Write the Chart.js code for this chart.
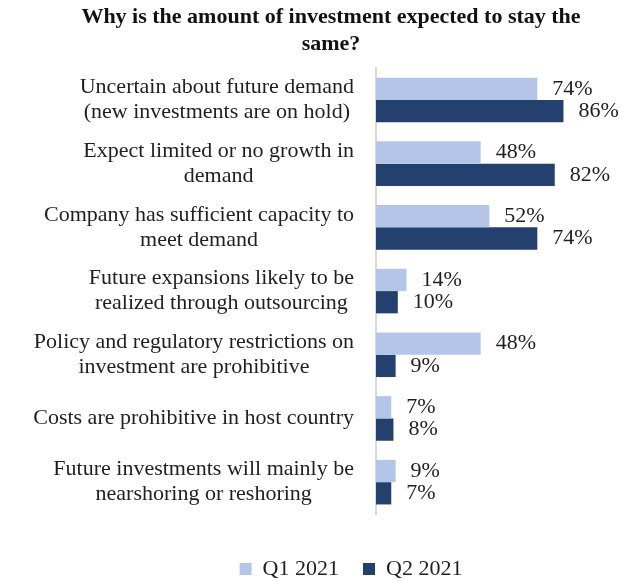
<!DOCTYPE html>
<html>
<head>
<meta charset="utf-8">
<script src="https://cdn.jsdelivr.net/npm/chart.js@4"></script>
<style>
  body { margin: 0; background: #fff; }
  #wrap { width: 634px; height: 581px; }
</style>
</head>
<body>
<div id="wrap"><canvas id="chartOne"></canvas></div>
<script>
const reasons = [
    ['Uncertain about future demand', '(new investments are on hold)'],
    ['Expect limited or no growth in', 'demand'],
    ['Company has sufficient capacity to', 'meet demand'],
    ['Future expansions likely to be', 'realized through outsourcing'],
    ['Policy and regulatory restrictions on', 'investment are prohibitive'],
    ['Costs are prohibitive in host country'],
    ['Future investments will mainly be', 'nearshoring or reshoring']
];
const seriesNames = ['Q1 2021', 'Q2 2021'];
const q1Values = [74, 48, 52, 14, 48, 7, 9];
const q2Values = [86, 82, 74, 10, 9, 8, 7];

const FONT = '"Liberation Serif", "Times New Roman", serif';
const TEXT = '#1f1f1f';

// category labels: each block right aligned, its lines centred on each other
const reasonLabels = {
    id: 'reasonLabels',
    afterDraw(chart) {
        const ctx = chart.ctx;
        const y = chart.scales.y;
        const right = 354;
        const lineH = 25;
        ctx.save();
        ctx.font = '22px ' + FONT;
        ctx.fillStyle = TEXT;
        ctx.textAlign = 'center';
        ctx.textBaseline = 'middle';
        reasons.forEach((lines, i) => {
            const w = Math.max(...lines.map(l => ctx.measureText(l).width));
            const cx = right - w / 2;
            const cy = y.getPixelForValue(i);
            const top = cy - (lines.length - 1) * lineH / 2;
            lines.forEach((l, k) => ctx.fillText(l, cx, top + k * lineH));
        });
        ctx.restore();
    }
};

// percentage labels at the end of each bar
const valueLabels = {
    id: 'valueLabels',
    afterDatasetsDraw(chart) {
        const ctx = chart.ctx;
        ctx.save();
        ctx.font = '22px ' + FONT;
        ctx.fillStyle = TEXT;
        ctx.textAlign = 'left';
        ctx.textBaseline = 'middle';
        chart.data.datasets.forEach((ds, i) => {
            chart.getDatasetMeta(i).data.forEach((bar, j) => {
                ctx.fillText(ds.data[j] + '%', bar.x + 15, bar.y);
            });
        });
        ctx.restore();
    }
};

// nudge the legend under the plot
const legendShift = {
    id: 'legendShift',
    afterLayout(chart) {
        const lg = chart.legend;
        lg.left += 20; lg.right += 20;
        lg.top += 20; lg.bottom += 20;
    }
};

const ctx = document.getElementById('chartOne').getContext('2d');
const myChart = new Chart(ctx, {
    type: 'bar',
    data: {
        labels: reasons,
        datasets: [
            {
                label: seriesNames[0],
                data: q1Values,
                backgroundColor: '#b4c6e7',
                categoryPercentage: 0.7,
                barPercentage: 1.0
            },
            {
                label: seriesNames[1],
                data: q2Values,
                backgroundColor: '#23406f',
                categoryPercentage: 0.7,
                barPercentage: 1.0
            }
        ]
    },
    options: {
        indexAxis: 'y',
        responsive: true,
        maintainAspectRatio: false,
        animation: false,
        layout: {
            padding: { left: 68, right: 40, top: 0, bottom: 11 }
        },
        scales: {
            x: {
                display: false,
                min: 0,
                max: 100
            },
            y: {
                grid: { display: false, drawTicks: false },
                border: { display: true, color: '#d9d9d9', width: 2 },
                ticks: { display: false },
                afterFit: (scale) => { scale.width = 308; }
            }
        },
        plugins: {
            title: {
                display: true,
                text: ['Why is the amount of investment expected to stay the', 'same?'],
                color: '#111',
                font: { family: FONT, size: 22, weight: 'bold', lineHeight: 1.23 },
                padding: { top: 4, bottom: 10 }
            },
            legend: {
                position: 'bottom',
                labels: {
                    color: TEXT,
                    boxWidth: 12,
                    boxHeight: 12,
                    padding: 24,
                    font: { family: FONT, size: 22 }
                }
            },
            tooltip: { enabled: false }
        }
    },
    plugins: [reasonLabels, valueLabels, legendShift]
});
</script>
</body>
</html>
